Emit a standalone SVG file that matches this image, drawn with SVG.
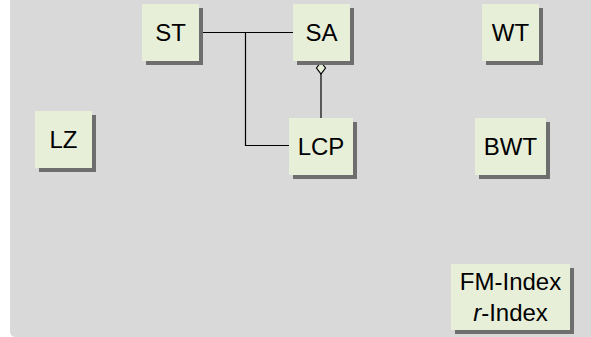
<svg xmlns="http://www.w3.org/2000/svg" width="591" height="337" viewBox="0 0 591 337">
<style>
.bg{fill:#d9d9d9}
.box{fill:#e8efd8}
.sh{fill:#6e6e6e}
.t{font-family:"Liberation Sans",Arial,sans-serif;font-size:24px;fill:#000;text-anchor:middle}
.c{fill:none;stroke:#000;stroke-width:1.2}
</style>
<path class="bg" d="M10 0H591V337H16Q10 337 10 331Z"/>
<g id="connectors">
<path class="c" d="M199 32.5H293"/>
<path class="c" d="M245.5 32.5V145.5H289"/>
<path class="c" d="M321 74V118"/>
<path d="M321 62L325.5 68L321 74L316.5 68Z" fill="#e8efd8" stroke="#000" stroke-width="1.2"/>
</g>
<g id="ST"><rect class="sh" x="146" y="8" width="57" height="57"/><rect class="box" x="142" y="4" width="57" height="57"/><text class="t" x="170.5" y="41">ST</text></g>
<g id="SA"><rect class="sh" x="297" y="8" width="57" height="57"/><rect class="box" x="293" y="4" width="57" height="57"/><text class="t" x="321.5" y="41">SA</text></g>
<g id="WT"><rect class="sh" x="486" y="8" width="57" height="57"/><rect class="box" x="482" y="4" width="57" height="57"/><text class="t" x="510.5" y="41">WT</text></g>
<g id="LZ"><rect class="sh" x="39" y="115" width="57" height="57"/><rect class="box" x="35" y="111" width="57" height="57"/><text class="t" x="63.5" y="148">LZ</text></g>
<g id="LCP"><rect class="sh" x="293" y="122" width="64" height="57"/><rect class="box" x="289" y="118" width="64" height="57"/><text class="t" x="321" y="155">LCP</text></g>
<g id="BWT"><rect class="sh" x="479" y="122" width="71" height="57"/><rect class="box" x="475" y="118" width="71" height="57"/><text class="t" x="510.5" y="155">BWT</text></g>
<g id="FM"><rect class="sh" x="455" y="268" width="119" height="66"/><rect class="box" x="451" y="264" width="119" height="66"/><text class="t" x="510.5" y="290">FM-Index</text><text class="t" x="510.5" y="321"><tspan font-style="italic">r</tspan>-Index</text></g>
</svg>
